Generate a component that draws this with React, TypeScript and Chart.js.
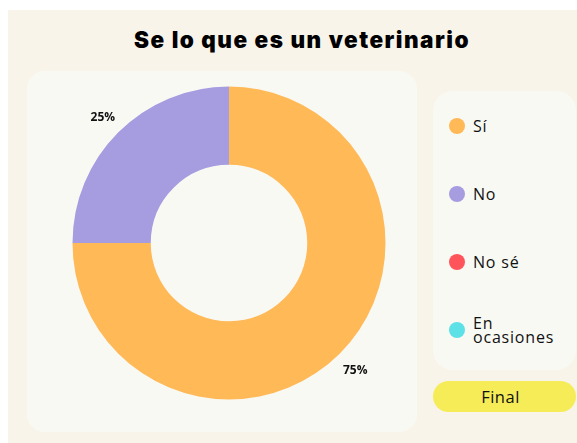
import React, { useEffect, useRef } from "react";
import { Chart, registerables } from "chart.js";

Chart.register(...registerables);

const TITLE = "Se lo que es un veterinario";
const LABELS = ["Sí", "No", "No sé", "En ocasiones"];
const VALUES = [75, 25, 0, 0];
const COLORS = ["#FFB957", "#A69CE0", "#FF5459", "#5CE1E6"];
const BUTTON_TEXT = "Final";

const pctLabels = {
  id: "pctLabels",
  afterDatasetsDraw(chart: any) {
    const ctx = chart.ctx;
    const meta = chart.getDatasetMeta(0);
    const data = chart.data.datasets[0].data as number[];
    const total = data.reduce((a, b) => a + b, 0);
    ctx.save();
    ctx.font = "bold 12px 'Open Sans', sans-serif";
    ctx.fillStyle = "#111111";
    ctx.textAlign = "center";
    ctx.textBaseline = "middle";
    meta.data.forEach((arc: any, i: number) => {
      const v = data[i];
      if (!v) return;
      const p = arc.getProps(["x", "y", "startAngle", "endAngle", "outerRadius"], true);
      const mid = (p.startAngle + p.endAngle) / 2;
      const r = p.outerRadius + 22;
      const txt = Math.round((v / total) * 100) + "%";
      ctx.fillText(txt, p.x + Math.cos(mid) * r, p.y + Math.sin(mid) * r + 1);
    });
    ctx.restore();
  },
};

export default function App() {
  const ref = useRef<HTMLCanvasElement>(null);
  useEffect(() => {
    document.body.style.overflow = "hidden";
    const chart = new Chart(ref.current!, {
      type: "doughnut",
      data: {
        labels: LABELS,
        datasets: [
          {
            data: VALUES,
            backgroundColor: COLORS,
            borderWidth: 0,
          },
        ],
      },
      options: {
        responsive: false,
        animation: false,
        cutout: "50%",
        layout: { padding: 23.5 },
        plugins: {
          legend: { display: false },
          tooltip: { enabled: false },
        },
      },
      plugins: [pctLabels],
    });
    return () => chart.destroy();
  }, []);

  return (
    <div
      style={{
        position: "absolute",
        left: 8,
        top: 10,
        width: 569,
        height: 433,
        background: "#F8F4EA",
        overflow: "hidden",
      }}
    >
      <div
        style={{
          position: "absolute",
          left: 19,
          right: 0,
          top: 16,
          textAlign: "center",
          font: "900 22.5px Inter, 'Liberation Sans', sans-serif",
          letterSpacing: "1.5px",
          color: "#000",
          lineHeight: "28px",
        }}
      >
        {TITLE}
      </div>
      <div
        style={{
          position: "absolute",
          left: 19,
          top: 61,
          width: 390,
          height: 361,
          background: "#F9F9F4",
          borderRadius: 18,
        }}
      />
      <canvas
        ref={ref}
        width={360}
        height={360}
        style={{ position: "absolute", left: 40.5, top: 52.5, width: 360, height: 360 }}
      />
      <div
        style={{
          position: "absolute",
          left: 425,
          top: 81,
          width: 143,
          height: 279,
          background: "#F9F9F4",
          borderRadius: 20,
        }}
      >
        {LABELS.map((l, i) => (
          <div
            key={l}
            style={{
              position: "absolute",
              left: 16,
              top: 35 + i * 68 - 20,
              height: 40,
              display: "flex",
              alignItems: "center",
            }}
          >
            <span
              style={{
                width: 16,
                height: 16,
                borderRadius: 8,
                background: COLORS[i],
                flexShrink: 0,
                marginRight: 8,
              }}
            />
            <span
              style={{
                font: "500 16px 'Open Sans', sans-serif",
                letterSpacing: "0.8px",
                lineHeight: "14px",
                color: "#111",
                maxWidth: 90,
              }}
            >
              {l}
            </span>
          </div>
        ))}
      </div>
      <div
        style={{
          position: "absolute",
          left: 425,
          top: 371,
          width: 143,
          height: 31,
          background: "#F5EC58",
          borderRadius: 16,
          display: "flex",
          alignItems: "center",
          justifyContent: "center",
          boxSizing: "border-box",
          paddingRight: 8,
          font: "500 16.5px 'Open Sans', sans-serif",
          letterSpacing: "0.5px",
          color: "#111",
        }}
      >
        {BUTTON_TEXT}
      </div>
    </div>
  );
}
